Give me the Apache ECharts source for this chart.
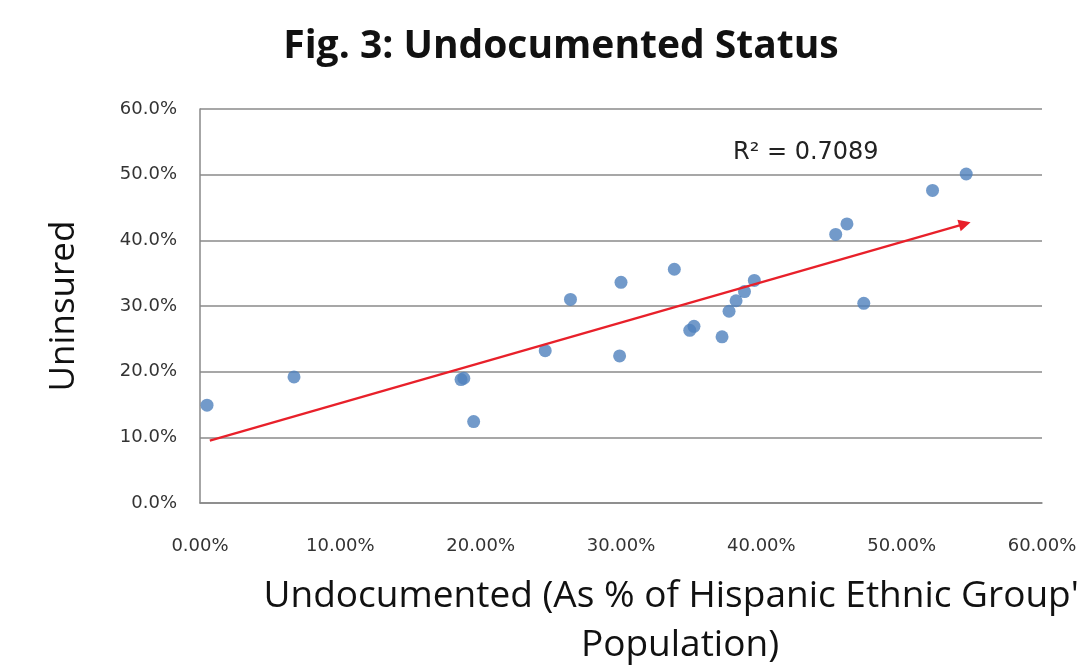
<!DOCTYPE html>
<html>
<head>
<meta charset="utf-8">
<script src="https://cdn.jsdelivr.net/npm/echarts@6/dist/echarts.min.js"></script>
<style>
html,body{margin:0;padding:0;background:#fff;}
#chart{width:1080px;height:665px;}
</style>
</head>
<body>
<div id="chart"></div>
<script>
// Undocumented share (%) of each Hispanic ethnic group's population
const undocumented = [0.5, 6.7, 18.6, 18.8, 19.5, 24.6, 26.4, 30.0, 29.9, 33.8, 34.9, 35.2, 37.2, 37.7, 38.2, 38.8, 39.5, 45.3, 46.1, 47.3, 52.2, 54.6];
// Uninsured share (%)
const uninsured    = [14.9, 19.2, 18.8, 19.0, 12.4, 23.2, 31.0, 33.6, 22.4, 35.6, 26.3, 26.9, 25.3, 29.2, 30.8, 32.2, 33.9, 40.9, 42.5, 30.4, 47.6, 50.1];
// Trendline endpoints as drawn in the reference (x %, y %)
const trendX = [0.7, 54.5];
const trendY = [9.5, 42.5];
const rSquaredLabel = 'R² = 0.7089';
const yTicks = [0, 10, 20, 30, 40, 50, 60];
const xTicks = [0, 10, 20, 30, 40, 50, 60];

const points = undocumented.map((x, i) => [x, uninsured[i]]);

const chart = echarts.init(document.getElementById('chart'));
chart.setOption({
  backgroundColor: '#ffffff',
  animation: false,
  title: {
    text: 'Fig. 3: Undocumented Status',
    left: 556, top: 22, textAlign: 'center',
    textStyle: {fontFamily: 'Open Sans', fontWeight: 'bold', fontSize: 39, color: '#111'}
  },
  grid: {left: 200, right: 38, top: 109, bottom: 162},
  xAxis: {
    type: 'value', min: xTicks[0], max: xTicks[xTicks.length - 1], interval: 10,
    axisLine: {show: true, lineStyle: {color: '#888', width: 1.5}},
    axisTick: {show: false},
    splitLine: {show: false},
    axisLabel: {formatter: v => v.toFixed(2) + '%', fontFamily: 'DejaVu Sans', fontSize: 18, color: '#333', margin: 34}
  },
  yAxis: {
    type: 'value', min: yTicks[0], max: yTicks[yTicks.length - 1], interval: 10,
    axisLine: {show: true, lineStyle: {color: '#888', width: 1.5}},
    axisTick: {show: false},
    splitLine: {show: true, lineStyle: {color: '#8a8a8a', width: 1.5}},
    axisLabel: {formatter: v => v.toFixed(1) + '%', fontFamily: 'DejaVu Sans', fontSize: 18, color: '#333', margin: 23},
    name: 'Uninsured', nameLocation: 'middle', nameGap: 118, nameRotate: 90,
    nameTextStyle: {fontFamily: 'Open Sans', fontSize: 35, color: '#111'}
  },
  series: [{
    type: 'scatter',
    data: points,
    symbolSize: 13,
    itemStyle: {color: '#4F81BD'},
    markLine: {
      silent: true,
      symbol: ['none', 'triangle'],
      symbolSize: 12,
      label: {show: false},
      itemStyle: {color: '#E8202A'},
      lineStyle: {color: '#E8202A', width: 2.2, type: 'solid'},
      data: [[{coord: [trendX[0], trendY[0]]}, {coord: [trendX[1], trendY[1]]}]]
    }
  }],
  graphic: [
    {type: 'text', left: 733, top: 141, style: {text: rSquaredLabel, font: '24px "DejaVu Sans"', fill: '#222'}},
    {type: 'text', x: 680, y: 596, style: {text: "Undocumented (As % of Hispanic Ethnic Group's", font: '37px "Open Sans"', fill: '#111', textAlign: 'center', textVerticalAlign: 'middle'}},
    {type: 'text', x: 680, y: 645, style: {text: 'Population)', font: '37px "Open Sans"', fill: '#111', textAlign: 'center', textVerticalAlign: 'middle'}}
  ]
});
</script>
</body>
</html>
